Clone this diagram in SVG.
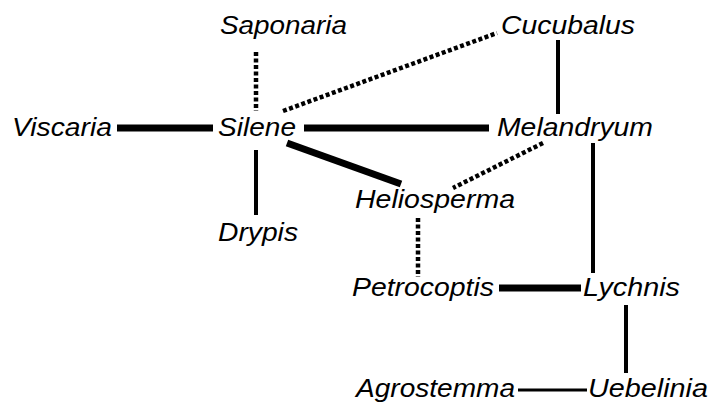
<svg xmlns="http://www.w3.org/2000/svg" width="713" height="406" viewBox="0 0 713 406">
<style>
text{font-family:"Liberation Sans",Arial,sans-serif;font-style:italic;font-size:25px;fill:#000}
.thick{stroke:#000;stroke-width:7;fill:none}
.mid{stroke:#000;stroke-width:4;fill:none}
.thin{stroke:#000;stroke-width:3;fill:none}
.dot{stroke:#000;stroke-width:4.5;fill:none;stroke-dasharray:4 2.5}
</style>
<rect width="713" height="406" fill="#fff"/>
<g id="connectors">
<line class="thick" x1="117" y1="128" x2="213" y2="128"/>
<line class="dot" x1="256" y1="52" x2="256" y2="111"/>
<line class="dot" x1="283" y1="111" x2="497" y2="33"/>
<line class="thick" x1="304" y1="128" x2="489" y2="128"/>
<line class="thick" x1="287" y1="143" x2="401" y2="184"/>
<line class="mid" x1="256" y1="150" x2="256" y2="215"/>
<line class="mid" x1="558" y1="40" x2="558" y2="114"/>
<line class="dot" x1="543" y1="143" x2="453" y2="188"/>
<line class="mid" x1="593" y1="143" x2="593" y2="273"/>
<line class="dot" x1="418" y1="218" x2="418" y2="277"/>
<line class="thick" x1="499" y1="288" x2="581" y2="288"/>
<line class="mid" x1="626" y1="305" x2="626" y2="373"/>
<line class="thin" x1="518" y1="390" x2="587" y2="390"/>
</g>
<g id="viscaria"><text x="12" y="136" textLength="100" lengthAdjust="spacingAndGlyphs">Viscaria</text></g>
<g id="saponaria"><text x="220" y="34" textLength="127" lengthAdjust="spacingAndGlyphs">Saponaria</text></g>
<g id="silene"><text x="218" y="136" textLength="78" lengthAdjust="spacingAndGlyphs">Silene</text></g>
<g id="cucubalus"><text x="501" y="34" textLength="134" lengthAdjust="spacingAndGlyphs">Cucubalus</text></g>
<g id="melandryum"><text x="497" y="136" textLength="156" lengthAdjust="spacingAndGlyphs">Melandryum</text></g>
<g id="heliosperma"><text x="355" y="208" textLength="160" lengthAdjust="spacingAndGlyphs">Heliosperma</text></g>
<g id="drypis"><text x="218" y="241" textLength="80" lengthAdjust="spacingAndGlyphs">Drypis</text></g>
<g id="petrocoptis"><text x="352" y="296" textLength="142" lengthAdjust="spacingAndGlyphs">Petrocoptis</text></g>
<g id="lychnis"><text x="583" y="296" textLength="97" lengthAdjust="spacingAndGlyphs">Lychnis</text></g>
<g id="agrostemma"><text x="356" y="397" textLength="159" lengthAdjust="spacingAndGlyphs">Agrostemma</text></g>
<g id="uebelinia"><text x="588" y="397" textLength="120" lengthAdjust="spacingAndGlyphs">Uebelinia</text></g>
</svg>
